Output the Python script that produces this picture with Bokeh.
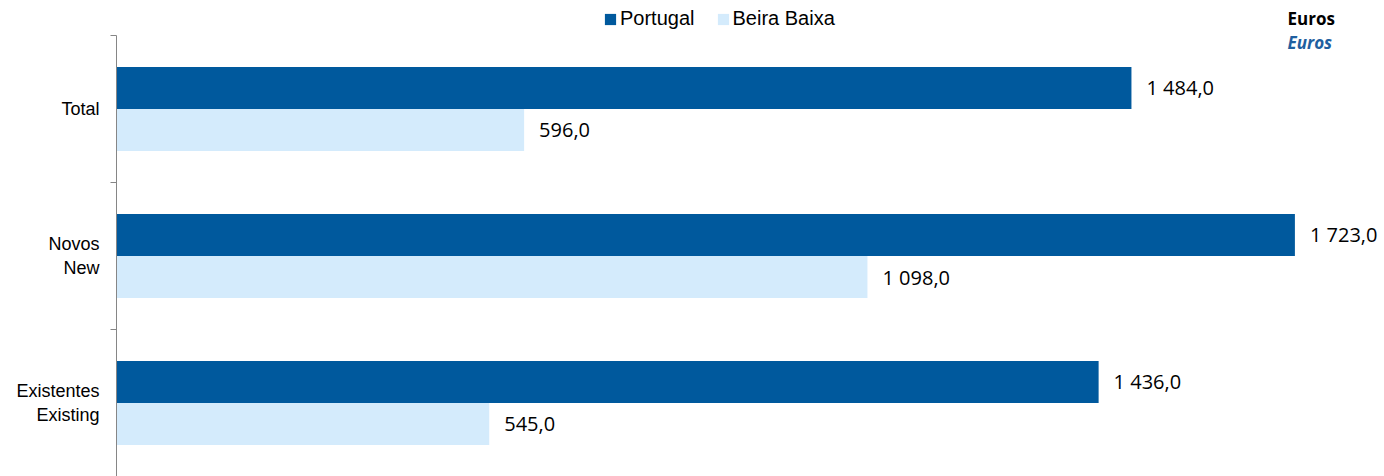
from bokeh.plotting import figure
from bokeh.models import ColumnDataSource, FixedTicker, Range1d, Legend, LegendItem, Label
from bokeh.embed import file_html
from bokeh.resources import INLINE
from bokeh.core.properties import value

categories = ["Total", "Novos\nNew", "Existentes\nExisting"]
portugal = [1484.0, 1723.0, 1436.0]
beira = [596.0, 1098.0, 545.0]
series_names = ["Portugal", "Beira Baixa"]
unit_pt = "Euros"
unit_en = "Euros"

C_PT = "#00599d"
C_BB = "#d4ebfc"

def fmt(v):
    s = f"{v:,.1f}"
    return s.replace(",", " ").replace(".", ",")

n = len(categories)
centers = [n - i - 0.5 for i in range(n)]
off = 0.143
h = 0.286
top_extra = 35 / 147.0

src_pt = ColumnDataSource(dict(y=[c + off for c in centers], v=portugal, lab=[fmt(v) for v in portugal]))
src_bb = ColumnDataSource(dict(y=[c - off for c in centers], v=beira, lab=[fmt(v) for v in beira]))

p = figure(width=1384, height=476, output_backend="svg", toolbar_location=None,
           x_range=Range1d(0, 1854), y_range=Range1d(0, n + top_extra),
           min_border_left=116, min_border_top=0, min_border_bottom=0, min_border_right=0)
p.outline_line_color = None
p.xgrid.visible = False
p.ygrid.visible = False
p.xaxis.visible = False

r_pt = p.hbar(y="y", left=0, right="v", height=h, source=src_pt, fill_color=C_PT, line_color=None)
r_bb = p.hbar(y="y", left=0, right="v", height=h, source=src_bb, fill_color=C_BB, line_color=None)

for src in (src_pt, src_bb):
    p.text(x="v", y="y", text="lab", source=src, x_offset=15, text_baseline="middle",
           text_align="left", text_font=value("Open Sans"), text_font_size="20px", text_color="#000000")

yax = p.yaxis[0]
yax.bounds = (0, n)
yax.ticker = FixedTicker(ticks=centers, minor_ticks=list(range(n + 1)))
yax.major_label_overrides = {c: lab for c, lab in zip(centers, categories)}
yax.major_tick_out = 0
yax.major_tick_in = 0
yax.minor_tick_out = 6
yax.minor_tick_in = 0
yax.minor_tick_line_color = "#868686"
yax.axis_line_color = "#868686"
yax.major_label_standoff = 11
yax.major_label_text_font = "Liberation Sans"
yax.major_label_text_font_size = "18px"
yax.major_label_text_color = "#000000"
yax.major_label_text_align = "right"

legend = Legend(items=[LegendItem(label=series_names[0], renderers=[r_pt]),
                       LegendItem(label=series_names[1], renderers=[r_bb])],
                orientation="horizontal", location=(487, 446),
                glyph_width=14, glyph_height=14, label_standoff=3, spacing=21,
                padding=0, margin=0, border_line_color=None, background_fill_alpha=0,
                label_text_font="Liberation Sans", label_text_font_size="20px",
                label_text_color="#000000")
p.add_layout(legend)

p.add_layout(Label(x=1287 - 116, y=476 - 18, x_units="screen", y_units="screen", text=unit_pt,
                   text_font="Open Sans", text_font_style="bold", text_font_size="17px",
                   text_color="#000000", text_baseline="middle"))
p.add_layout(Label(x=1287 - 116, y=476 - 42, x_units="screen", y_units="screen", text=unit_en,
                   text_font="Open Sans", text_font_style="bold italic", text_font_size="17px",
                   text_color="#1f5f9f", text_baseline="middle"))

open("out.html", "w").write(file_html(p, INLINE))
